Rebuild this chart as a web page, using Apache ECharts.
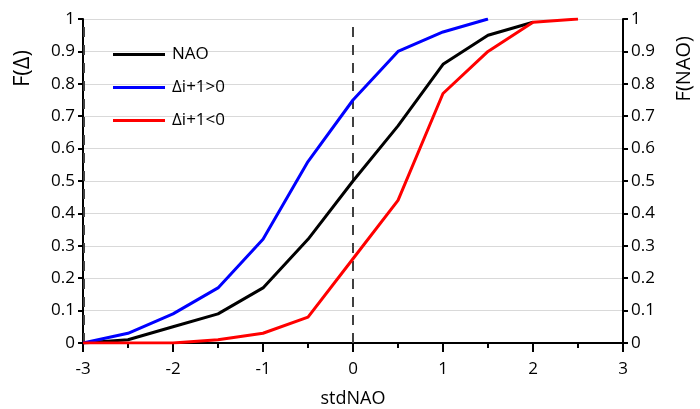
<!DOCTYPE html>
<html><head><meta charset="utf-8">
<script src="https://cdn.jsdelivr.net/npm/echarts@6/dist/echarts.min.js"></script>
<style>html,body{margin:0;padding:0;background:#fff}#c{width:700px;height:409px}</style>
</head><body><div id="c"></div>
<script>
const xNAO = [-3, -2.5, -2, -1.5, -1, -0.5, 0, 0.5, 1, 1.5, 2];
const yNAO = [0, 0.01, 0.05, 0.09, 0.17, 0.32, 0.5, 0.67, 0.86, 0.95, 0.99];
const xPos = [-3, -2.5, -2, -1.5, -1, -0.5, 0, 0.5, 1, 1.5];
const yPos = [0, 0.03, 0.09, 0.17, 0.32, 0.56, 0.75, 0.9, 0.96, 1.0];
const xNeg = [-3, -2.5, -2, -1.5, -1, -0.5, 0, 0.5, 1, 1.5, 2, 2.5];
const yNeg = [0, 0, 0, 0.01, 0.03, 0.08, 0.26, 0.44, 0.77, 0.9, 0.99, 1.0];
const names = ['NAO', 'Δi+1>0', 'Δi+1<0'];
const zip = (a, b) => a.map((v, i) => [v, b[i]]);
const font = '"Open Sans", "Noto Sans", sans-serif';
const chart = echarts.init(document.getElementById('c'));
const yAxisCommon = {
  type: 'value', min: 0, max: 1, interval: 0.1,
  axisLine: {show: true, onZero: false, lineStyle: {color: '#000', width: 2}},
  axisTick: {show: true, length: 5, lineStyle: {color: '#000', width: 2}},
  axisLabel: {color: '#000', fontSize: 17, fontFamily: font, margin: 8}
};
chart.setOption({
  animation: false,
  grid: {left: 83, right: 77, top: 19, bottom: 66, outerBoundsMode: 'none'},
  graphic: [
    {type: 'text', left: 12, top: 50, rotation: Math.PI / 2,
      style: {text: 'F(Δ)', fontSize: 22, fontFamily: font, fill: '#000'}},
    {type: 'text', right: 6, top: 36, rotation: Math.PI / 2,
      style: {text: 'F(NAO)', fontSize: 20, fontFamily: font, fill: '#000'}}
  ],
  legend: {
    orient: 'vertical', left: 108, top: 41, itemWidth: 52, itemHeight: 3, itemGap: 16,
    textStyle: {color: '#000', fontSize: 17, fontFamily: font, padding: [0,0,0,2]},
    data: names.map(n => ({name: n, icon: 'rect'}))
  },
  xAxis: {
    type: 'value', min: -3, max: 3, interval: 1,
    name: 'stdNAO', nameLocation: 'middle', nameGap: 47,
    nameTextStyle: {color: '#000', fontSize: 18, fontFamily: font},
    axisLine: {onZero: false, lineStyle: {color: '#000', width: 2}},
    axisTick: {length: 9, lineStyle: {color: '#000', width: 2}},
    minorTick: {show: true, splitNumber: 2, length: 5, lineStyle: {color: '#000', width: 2}},
    axisLabel: {color: '#000', fontSize: 17, fontFamily: font, margin: 18},
    splitLine: {show: false}
  },
  yAxis: [
    Object.assign({}, yAxisCommon, {position: 'left',
      splitLine: {show: true, lineStyle: {color: '#d9d9d9', width: 1}}}),
    Object.assign({}, yAxisCommon, {position: 'right', splitLine: {show: false}})
  ],
  series: [
    {name: names[0], type: 'line', data: zip(xNAO, yNAO), symbol: 'none', z: 3,
      lineStyle: {color: '#000', width: 3}, itemStyle: {color: '#000'},
      markLine: {silent: true, symbol: 'none', label: {show: false}, z: 1,
        lineStyle: {color: '#404040', width: 2, type: [10, 8]},
        emphasis: {disabled: true},
        data: [[{coord: [0, 0]}, {coord: [0, 1]}], [{coord: [-2.99, 0]}, {coord: [-2.99, 1]}]]}},
    {name: names[1], type: 'line', data: zip(xPos, yPos), symbol: 'none', z: 4,
      lineStyle: {color: '#0000ff', width: 3}, itemStyle: {color: '#0000ff'}},
    {name: names[2], type: 'line', data: zip(xNeg, yNeg), symbol: 'none', z: 5,
      lineStyle: {color: '#ff0000', width: 3}, itemStyle: {color: '#ff0000'}}
  ]
});
</script></body></html>
